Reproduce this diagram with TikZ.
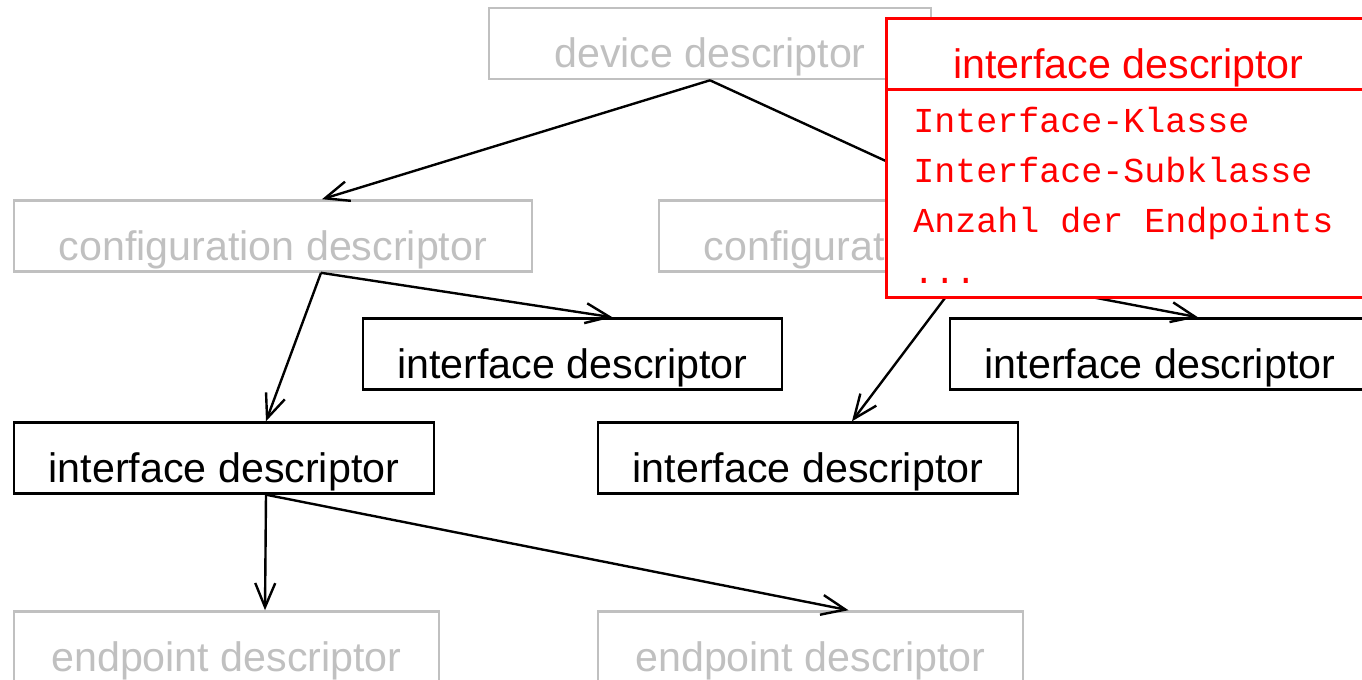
\documentclass[tikz,border=0pt]{standalone}
\usepackage{fontspec}
\setmainfont{Liberation Sans}
\setmonofont{Liberation Mono}
\usetikzlibrary{arrows.meta}
\definecolor{faded}{RGB}{192,192,192}
\definecolor{hilite}{RGB}{255,0,0}

\begin{document}
\begin{tikzpicture}[x=0.5pt,y=-0.5pt,
  descbox/.style={rectangle, draw, inner sep=0pt,
    minimum height=35.5pt, text height=24.5pt, text depth=0pt,
    font=\fontsize{20.6pt}{24pt}\selectfont},
  faded/.style={descbox, draw=faded, text=faded, line width=1.3pt},
  active/.style={descbox, draw=black, text=black, line width=1.2pt},
  link/.style={-{Straight Barb[length=12pt,width=10pt]}, line width=1.2pt, black},
  popbox/.style={rectangle, draw=hilite, fill=white, line width=1.5pt,
    inner sep=0pt, minimum width=242.5pt},
  field/.style={anchor=base west, inner sep=0pt, text=hilite,
    font=\ttfamily\fontsize{17.5pt}{20pt}\selectfont}]

\useasboundingbox (0,0) rectangle (1362,680);
\clip (0,0) rectangle (1362,680);

% descriptor hierarchy
\node[faded, minimum width=221pt] (dev)  at (710,43.5) {device descriptor};
\node[faded, minimum width=259pt] (cfgL) at (273,236)  {configuration descriptor};
\node[faded, minimum width=259pt] (cfgR) at (918,236)  {configuration descriptor};
\node[active, minimum width=209.5pt] (ifM) at (572.5,354) {interface descriptor};
\node[active, minimum width=210pt]   (ifR) at (1160,354)  {interface descriptor};
\node[active, minimum width=210pt]   (ifL) at (224,458)   {interface descriptor};
\node[active, minimum width=210pt]   (ifC) at (808,458)   {interface descriptor};
\node[faded, minimum width=212.5pt] (epL) at (226.5,647) {endpoint descriptor};
\node[faded, minimum width=212.5pt] (epR) at (810.5,647) {endpoint descriptor};

% links between levels
\draw[link] (dev.south) -- ([xshift=24.5pt]cfgL.north);
\draw[link] (dev.south) -- ([xshift=25.5pt]cfgR.north);
\draw[link] ([xshift=24pt]cfgL.south) -- ([xshift=20pt]ifM.north);
\draw[link] ([xshift=24pt]cfgL.south) -- ([xshift=21pt]ifL.north);
\draw[link] ([xshift=23pt]cfgR.south) -- ([xshift=22pt]ifC.north);
\draw[link] ([xshift=23pt]cfgR.south) -- ([xshift=19pt]ifR.north);
\draw[link] ([xshift=21pt]ifL.south) -- ([xshift=19.25pt]epL.north);
\draw[link] ([xshift=21pt]ifL.south) -- ([xshift=19pt]epR.north);

% detail card of an interface descriptor
\node[popbox, minimum height=104pt] (card) at (1128.5,193) {};
\node[popbox, minimum height=35.5pt, text height=24.5pt, text depth=0pt,
      text=hilite, font=\fontsize{20.6pt}{24pt}\selectfont]
      (cardhead) at (1128.5,53.5) {interface descriptor};
\node[field] (f1) at (913,132) {Interface-Klasse};
\node[field] (f2) at (913,182) {Interface-Subklasse};
\node[field] (f3) at (913,232) {Anzahl der Endpoints};
\node[field] (f4) at (913,283) {...};
\end{tikzpicture}
\end{document}
